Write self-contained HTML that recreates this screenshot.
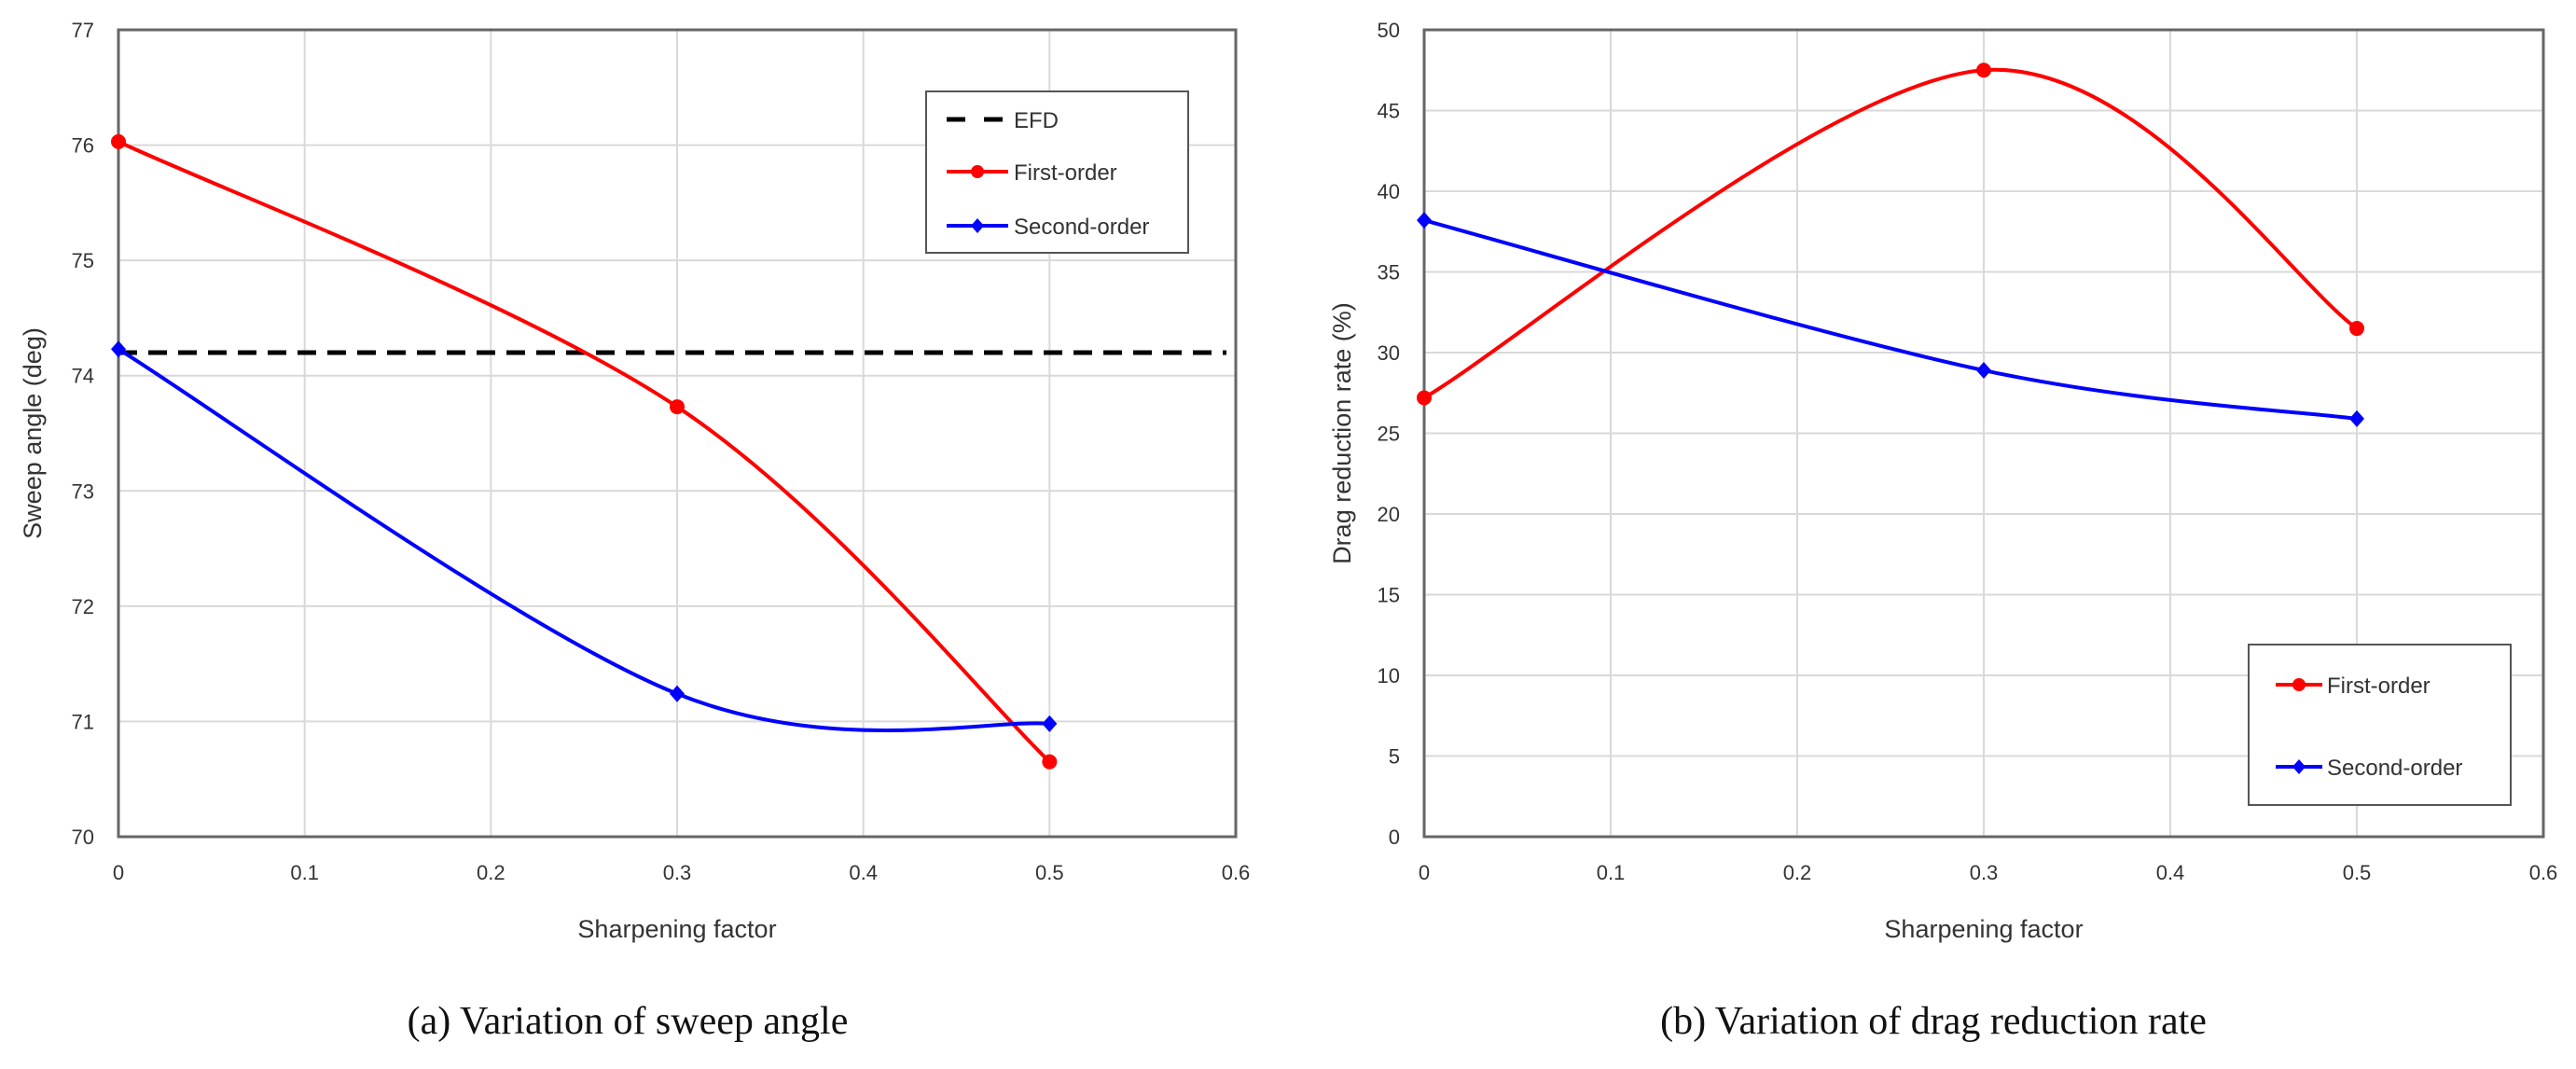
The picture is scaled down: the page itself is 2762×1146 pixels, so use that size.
<!DOCTYPE html>
<html><head><meta charset="utf-8"><style>
body{margin:0;background:#fff;}
svg{display:block;}
text{font-family:"Liberation Sans",sans-serif;fill:#333;}
.cap{font-family:"Liberation Serif",serif;fill:#111;}
</style></head><body>
<svg id="svg" width="2762" height="1146" viewBox="0 0 2762 1146"></svg>
<script>
const xVals=[0,0.3,0.5];
const xTicks=[0,0.1,0.2,0.3,0.4,0.5,0.6];
const sweepFirst=[76.03,73.73,70.65];
const sweepSecond=[74.23,71.24,70.98];
const sweepEFD=74.2;
const sweepTicks=[70,71,72,73,74,75,76,77];
const dragFirst=[27.2,47.5,31.5];
const dragSecond=[38.2,28.9,25.9];
const dragTicks=[0,5,10,15,20,25,30,35,40,45,50];

const NS="http://www.w3.org/2000/svg";
const svg=document.getElementById('svg');
function mk(tag,attrs,parent){const e=document.createElementNS(NS,tag);for(const k in attrs)e.setAttribute(k,attrs[k]);(parent||svg).appendChild(e);return e;}
function smooth(pts){
  let d=`M${pts[0][0]},${pts[0][1]}`;
  for(let i=0;i<pts.length-1;i++){
    const p0=pts[Math.max(0,i-1)],p1=pts[i],p2=pts[i+1],p3=pts[Math.min(pts.length-1,i+2)];
    const c1=[p1[0]+(p2[0]-p0[0])/6,p1[1]+(p2[1]-p0[1])/6];
    const c2=[p2[0]-(p3[0]-p1[0])/6,p2[1]-(p3[1]-p1[1])/6];
    d+=` C${c1[0]},${c1[1]} ${c2[0]},${c2[1]} ${p2[0]},${p2[1]}`;
  }
  return d;
}
function chart(o){
  const g=mk('g',{});
  
  
  const X=v=>o.x0+(v-0)/(0.6)*(o.x1-o.x0);
  const Y=v=>o.y1-(v-o.ymin)/(o.ymax-o.ymin)*(o.y1-o.y0);
  xTicks.forEach(t=>{
    const l=mk('line',{x1:X(t),x2:X(t),y1:o.y0,y2:o.y1,stroke:'#d9d9d9','stroke-width':2},g);
    
    
    const tx=mk('text',{x:X(t),y:o.y1+46,'text-anchor':'middle','font-size':22},g);
    tx.textContent=String(t);
    
    
  });
  o.ticks.forEach(t=>{
    const l=mk('line',{x1:o.x0,x2:o.x1,y1:Y(t),y2:Y(t),stroke:'#d9d9d9','stroke-width':2},g);
    
    
    const tx=mk('text',{x:o.x0-26,y:Y(t)+8,'text-anchor':'end','font-size':22},g);
    tx.textContent=String(t);
    
    
  });
  const fr=mk('rect',{x:o.x0,y:o.y0,width:o.x1-o.x0,height:o.y1-o.y0,fill:'none',stroke:'#666','stroke-width':3},g);
  
  
  if(o.efd!==undefined){
    const e=mk('line',{x1:X(0),x2:o.x1-10,y1:Y(o.efd),y2:Y(o.efd),stroke:'#000','stroke-width':5,'stroke-dasharray':'20 12'},g);
    
    
  }
  o.series.forEach(s=>{
    const pts=xVals.map((x,i)=>[X(x),Y(s.vals[i])]);
    const p=mk('path',{d:smooth(pts),fill:'none',stroke:s.color,'stroke-width':4},g);
    
    
    pts.forEach(q=>{
      let m;
      if(s.marker==='circle') m=mk('circle',{cx:q[0],cy:q[1],r:8,fill:s.color},g);
      else m=mk('polygon',{points:`${q[0]},${q[1]-9} ${q[0]+8},${q[1]} ${q[0]},${q[1]+9} ${q[0]-8},${q[1]}`,fill:s.color},g);
      
      
    });
  });
  const xt=mk('text',{x:(o.x0+o.x1)/2,y:1005,'text-anchor':'middle','font-size':27},g);
  xt.textContent='Sharpening factor';
  
  
  const yt=mk('text',{x:0,y:0,'text-anchor':'middle','font-size':27,transform:`translate(${o.ytx},${(o.y0+o.y1)/2}) rotate(-90)`},g);
  yt.textContent=o.ytitle;
  
  
  const c=mk('text',{x:o.capx,y:1108,'text-anchor':'middle','font-size':42,class:'cap'},g);
  c.textContent=o.caption;
  
  
  const L=o.legend;
  const lb=mk('rect',{x:L.x,y:L.y,width:L.w,height:L.h,fill:'#fff',stroke:'#555','stroke-width':2},g);
  
  
  L.items.forEach(it=>{
    const ln=mk('line',{x1:L.lx1,x2:L.lx2,y1:it.y,y2:it.y,stroke:it.color,'stroke-width':it.dash?5:4,'stroke-dasharray':it.dash?'20 20':'none'},g);
    
    
    const cx=(L.lx1+L.lx2)/2;
    if(it.marker==='circle') mk('circle',{cx:cx,cy:it.y,r:7,fill:it.color},g);
    if(it.marker==='diamond') mk('polygon',{points:`${cx},${it.y-8} ${cx+7},${it.y} ${cx},${it.y+8} ${cx-7},${it.y}`,fill:it.color},g);
    const t=mk('text',{x:L.tx,y:it.y+9,'font-size':24},g);
    t.textContent=it.label;
    
    
  });
}
chart({name:'sweep-angle-chart',x0:127,x1:1325,y0:32,y1:897,ymin:70,ymax:77,ticks:sweepTicks,efd:sweepEFD,
  series:[{name:'first-order',vals:sweepFirst,color:'#ff0000',marker:'circle'},{name:'second-order',vals:sweepSecond,color:'#0000ff',marker:'diamond'}],
  ytx:44,ytitle:'Sweep angle (deg)',capx:673,caption:'(a) Variation of sweep angle',
  legend:{x:993,y:98,w:281,h:173,lx1:1015,lx2:1081,tx:1087,items:[
    {y:128,color:'#000',dash:true,label:'EFD'},
    {y:184,color:'#ff0000',marker:'circle',label:'First-order'},
    {y:242,color:'#0000ff',marker:'diamond',label:'Second-order'}]}});
chart({name:'drag-reduction-chart',x0:1527,x1:2727,y0:32,y1:897,ymin:0,ymax:50,ticks:dragTicks,
  series:[{name:'first-order',vals:dragFirst,color:'#ff0000',marker:'circle'},{name:'second-order',vals:dragSecond,color:'#0000ff',marker:'diamond'}],
  ytx:1448,ytitle:'Drag reduction rate (%)',capx:2073,caption:'(b) Variation of drag reduction rate',
  legend:{x:2411,y:691,w:281,h:172,lx1:2440,lx2:2490,tx:2495,items:[
    {y:734,color:'#ff0000',marker:'circle',label:'First-order'},
    {y:822,color:'#0000ff',marker:'diamond',label:'Second-order'}]}});
</script>
</body></html>
